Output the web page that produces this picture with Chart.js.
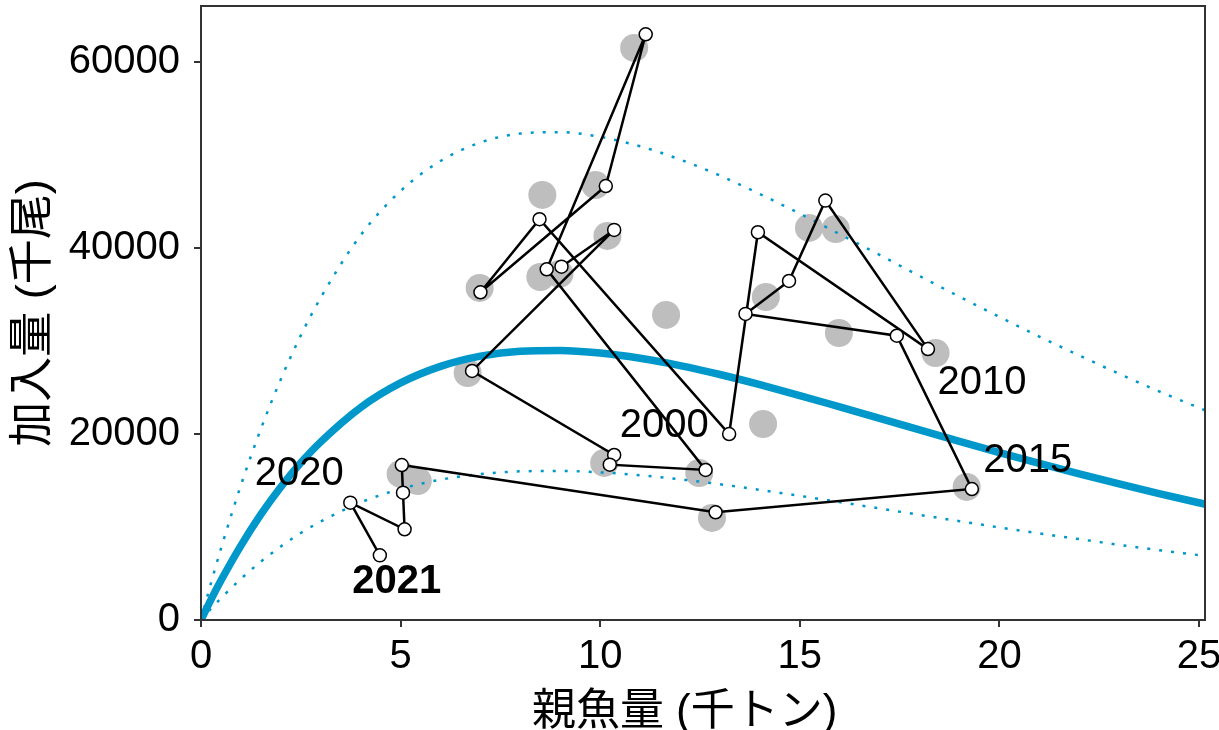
<!DOCTYPE html>
<html>
<head>
<meta charset="utf-8">
<script src="https://cdn.jsdelivr.net/npm/chart.js@4.4.1/dist/chart.umd.min.js"></script>
<style>
  html, body { margin: 0; padding: 0; background: #fff; }
</style>
</head>
<body>
<canvas id="srChart" width="1219" height="730"></canvas>
<script>
// observed stock-recruit pairs, 1997-2021
const years = [1997, 1998, 1999, 2000, 2001, 2002, 2003, 2004, 2005, 2006, 2007, 2008, 2009,
  2010, 2011, 2012, 2013, 2014, 2015, 2016, 2017, 2018, 2019, 2020, 2021];
const ssb = [9.03, 10.35, 6.79, 10.35, 10.24, 12.64, 8.66, 11.14, 10.14, 7.0, 8.48, 13.23, 13.95,
  18.21, 15.64, 14.73, 13.64, 17.43, 19.31, 12.89, 5.03, 5.06, 5.1, 3.74, 4.48];
const recruits = [37980, 41930, 26770, 17740, 16700, 16130, 37700, 62960, 46650, 35230, 43080, 19990, 41680,
  29130, 45080, 36440, 32900, 30560, 14080, 11580, 16660, 13690, 9750, 12610, 6950];

// previous assessment estimates (grey)
const prevSsb = [10.85, 8.55, 9.88, 10.18, 6.98, 8.5, 8.98, 11.65, 6.68, 14.08, 14.15,
  10.1, 12.48, 12.8, 15.23, 15.9, 15.98, 18.4, 19.18, 5.0, 5.43];
const prevRecruits = [61490, 45690, 46760, 41280, 35690, 36870, 37200, 32790, 26550, 21070, 34720,
  16880, 15800, 10970, 42140, 42030, 30850, 28700, 14300, 15700, 14940];

// stock-recruit curve and its band
const curveSsb = [0, 0.25, 0.5, 1, 1.5, 2, 2.5, 3, 4, 5, 6, 7, 8, 9, 10, 11, 12, 13, 14, 15,
  16, 17, 18, 19, 20, 21, 22, 23, 24, 25, 25.2];
const curveMid = [0, 2190, 4240, 8000, 11350, 14300, 16900, 19150, 22850, 25480, 27260, 28360, 28890,
  28970, 28690, 28130, 27350, 26390, 25300, 24130, 22910, 21680, 20430, 19200, 18000, 16830, 15710,
  14620, 13580, 12600, 12410];
const curveUpper = [0, 3960, 7670, 14480, 20540, 25880, 30590, 34660, 41360, 46120, 49340, 51330, 52290,
  52440, 51930, 50920, 49500, 47770, 45790, 43680, 41470, 39240, 36980, 34750, 32580, 30460, 28440,
  26460, 24580, 22810, 22460];
const curveLower = [0, 1210, 2340, 4420, 6280, 7910, 9350, 10590, 12640, 14090, 15080, 15680, 15980,
  16020, 15870, 15560, 15120, 14590, 13990, 13340, 12670, 11990, 11300, 10620, 9950, 9310, 8690,
  8080, 7510, 6970, 6860];

const xTickValues = [0, 5, 10, 15, 20, 25];
const yTickValues = [0, 20000, 40000, 60000];
const labelYears = [2000, 2010, 2015, 2020, 2021];

const FONT = "'Liberation Sans', 'Noto Sans CJK JP', sans-serif";
const BLUE = "#0098cb";
const PLOT_TOP = 6;

function toPoints(xs, ys) {
  return xs.map((x, i) => ({ x: x, y: ys[i] }));
}

// text offsets (px) of each year label from its point
const labelOffsets = {
  2000: [50, -29],
  2010: [54, 34],
  2015: [56, -28],
  2020: [-51, -29],
  2021: [17, 27],
};

const yearLabels = {
  id: "yearLabels",
  afterDatasetsDraw(chart) {
    const ctx = chart.ctx;
    const meta = chart.getDatasetMeta(0);
    ctx.save();
    ctx.fillStyle = "#000";
    ctx.textAlign = "center";
    ctx.textBaseline = "middle";
    labelYears.forEach((yr) => {
      const pt = meta.data[years.indexOf(yr)];
      const off = labelOffsets[yr];
      ctx.font = (yr === 2021 ? "bold " : "") + "40px " + FONT;
      ctx.fillText(String(yr), pt.x + off[0], pt.y + off[1]);
    });
    ctx.restore();
  },
};

// pull the plot top up to the panel edge (chart.js keeps room for the top tick label)
const panelTop = {
  id: "panelTop",
  afterLayout(chart) {
    const area = chart.chartArea;
    const y = chart.scales.y;
    const shift = area.top - PLOT_TOP;
    if (shift !== 0) {
      area.top -= shift;
      area.height += shift;
      y.top -= shift;
      y.height += shift;
      y.configure();
    }
  },
};

const frame = {
  id: "frame",
  afterDraw(chart) {
    const a = chart.chartArea;
    const ctx = chart.ctx;
    ctx.save();
    ctx.strokeStyle = "#333";
    ctx.lineWidth = 2;
    ctx.strokeRect(a.left, a.top, a.right - a.left, a.bottom - a.top);
    ctx.restore();
  },
};

const ctx = document.getElementById("srChart");
new Chart(ctx, {
  type: "scatter",
  data: {
    datasets: [
      {
        label: "observed",
        data: toPoints(ssb, recruits),
        showLine: true,
        borderColor: "#000",
        borderWidth: 2.5,
        pointRadius: 6.5,
        pointBackgroundColor: "#fff",
        pointBorderColor: "#000",
        pointBorderWidth: 1.5,
        order: 0,
      },
      {
        label: "upper",
        data: toPoints(curveSsb, curveUpper),
        showLine: true,
        borderColor: BLUE,
        borderWidth: 2.5,
        borderDash: [3, 9],
        pointRadius: 0,
        cubicInterpolationMode: "monotone",
        order: 1,
      },
      {
        label: "lower",
        data: toPoints(curveSsb, curveLower),
        showLine: true,
        borderColor: BLUE,
        borderWidth: 2.5,
        borderDash: [3, 9],
        pointRadius: 0,
        cubicInterpolationMode: "monotone",
        order: 2,
      },
      {
        label: "curve",
        data: toPoints(curveSsb, curveMid),
        showLine: true,
        borderColor: BLUE,
        borderWidth: 7.5,
        pointRadius: 0,
        cubicInterpolationMode: "monotone",
        order: 3,
      },
      {
        label: "previous",
        data: toPoints(prevSsb, prevRecruits),
        pointRadius: 14,
        pointBackgroundColor: "#bebebe",
        pointBorderWidth: 0,
        borderColor: "rgba(0,0,0,0)",
        order: 5,
      },
    ],
  },
  options: {
    responsive: false,
    animation: false,
    layout: { padding: { top: PLOT_TOP, right: 13, left: 0, bottom: 0 } },
    plugins: {
      legend: { display: false },
      tooltip: { enabled: false },
    },
    scales: {
      x: {
        type: "linear",
        min: 0,
        max: 25.15,
        afterBuildTicks: (scale) => {
          scale.ticks = xTickValues.map((v) => ({ value: v }));
        },
        afterFit: (scale) => {
          scale.height = 110;
          scale.paddingLeft = 0;
          scale.paddingRight = 0;
        },
        grid: { drawOnChartArea: false, drawTicks: true, tickLength: 7, color: "#333", lineWidth: 2 },
        border: { display: true, color: "#333", width: 2 },
        ticks: {
          color: "#000",
          padding: 6,
          maxRotation: 0,
          font: { family: FONT, size: 40 },
          callback: (v) => String(v),
        },
        title: {
          display: true,
          text: "親魚量 (千トン)   ",
          color: "#000",
          font: { family: FONT, size: 44, lineHeight: 0.8 },
          padding: { top: 0, bottom: 0 },
        },
      },
      y: {
        type: "linear",
        min: 0,
        max: 66000,
        afterBuildTicks: (scale) => {
          scale.ticks = yTickValues.map((v) => ({ value: v }));
        },
        afterFit: (scale) => {
          scale.width = 201;
          scale.paddingTop = 0;
          scale.paddingBottom = 0;
        },
        grid: { drawOnChartArea: false, drawTicks: true, tickLength: 7, color: "#333", lineWidth: 2 },
        border: { display: true, color: "#333", width: 2 },
        ticks: {
          color: "#000",
          padding: 14,
          font: { family: FONT, size: 40 },
          callback: (v) => String(v),
        },
        title: {
          display: true,
          text: "加入量 (千尾)",
          color: "#000",
          font: { family: FONT, size: 45 },
          padding: { top: 8, bottom: 0 },
        },
      },
    },
  },
  plugins: [panelTop, yearLabels, frame],
});
</script>
</body>
</html>
